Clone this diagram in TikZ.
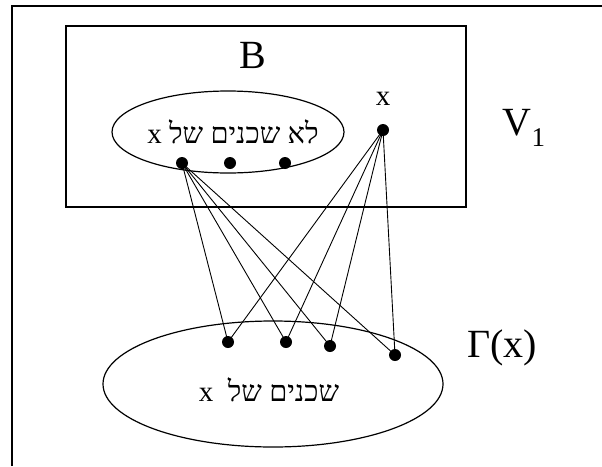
\documentclass[tikz,border=0pt]{standalone}
\usepackage{fontspec}
\setmainfont{Liberation Serif}
\newfontfamily\hebfont[Script=Hebrew]{Liberation Serif}
\TeXXeTstate=1
\usetikzlibrary{positioning}
\tikzset{
  vtx/.style={circle, fill=black, inner sep=0pt, minimum size=12pt},
  edge/.style={line width=0.9pt},
  big/.style={font=\fontsize{40}{40}\selectfont, inner sep=0pt},
  lbl/.style={font=\fontsize{29}{29}\selectfont, inner sep=0pt},
  heb/.style={font=\hebfont\fontsize{29}{29}\selectfont, inner sep=0pt},
}

\begin{document}
\begin{tikzpicture}[x=1pt, y=-1pt]
    \useasboundingbox (0,0) rectangle (602,466);
    \draw[line width=2pt] (12,466) -- (12,6) -- (602,6);
    \draw[line width=1.5pt] (66,26) rectangle (466,207);
    \draw[line width=1.2pt] (228,132) ellipse [x radius=116pt, y radius=41pt];
    \draw[line width=1.2pt] (273,384) ellipse [x radius=170pt, y radius=63pt];
    \node[big] (B) at (253,55) {B};
    \node[big] (V) at (524,128) {V\raisebox{-11pt}{\fontsize{27}{27}\selectfont 1}};
    \node[big] (G) at (502,348) {Γ(x)};
    \node[heb] (nonnb) at (233,132) {\beginR לא שכנים של x\endR};
    \node[heb] (nb) at (269,390) {\beginR שכנים של~~x\endR};
    \node[vtx] (b1) at (182,163) {};
    \node[vtx] (b2) at (230,163) {};
    \node[vtx] (b3) at (285,163) {};
    \node[vtx] (x) at (383,130) {};
    \node[lbl, above=18pt of x] (xl) {x};
    \node[vtx] (g1) at (228,342) {};
    \node[vtx] (g2) at (286,342) {};
    \node[vtx] (g3) at (330,346) {};
    \node[vtx] (g4) at (395,355) {};
    \foreach \t in {g1,g2,g3,g4} {
        \draw[edge] (b1.center) -- (\t.center);
        \draw[edge] (x.center) -- (\t.center);
    }
\end{tikzpicture}
\end{document}
